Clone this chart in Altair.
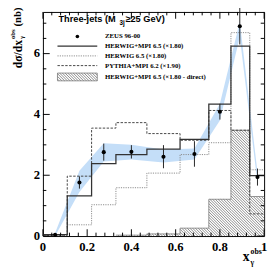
import altair as alt
import pandas as pd

# ---------------- data ----------------
edges = [0.0, 0.11, 0.22, 0.33, 0.47, 0.62, 0.75, 0.85, 0.935, 1.0]
herwig_mpi = [0.05, 1.32, 2.38, 2.68, 2.86, 3.18, 4.34, 6.25, 1.99]
herwig = [0.02, 0.37, 1.03, 1.59, 2.07, 2.68, 3.07, 6.69, 2.18]
pythia = [0.03, 1.97, 3.55, 3.73, 3.37, 3.15, 4.13, 3.48, 0.73]
direct = [0.0, 0.0, 0.0, 0.03, 0.07, 0.26, 1.21, 3.48, 1.30]

data_x = [0.055, 0.165, 0.275, 0.40, 0.545, 0.685, 0.80, 0.89, 0.97]
data_y = [0.04, 1.76, 2.76, 2.77, 2.61, 2.70, 4.09, 6.90, 1.94]
data_err = [0.03, 0.20, 0.28, 0.22, 0.38, 0.42, 0.26, 0.60, 0.28]
band_lo = [0.00, 1.45, 2.45, 2.52, 2.42, 2.52, 3.80, 6.55, 1.75]
band_hi = [0.10, 2.15, 3.05, 3.00, 2.85, 2.88, 4.35, 7.05, 2.10]

x_major = [0.0, 0.2, 0.4, 0.6, 0.8, 1.0]
x_labels = ["0", "0.2", "0.4", "0.6", "0.8", "1"]
x_minor = [0.04, 0.08, 0.12, 0.16, 0.24, 0.28, 0.32, 0.36, 0.44, 0.48, 0.52,
           0.56, 0.64, 0.68, 0.72, 0.76, 0.84, 0.88, 0.92, 0.96]
y_major = [0, 2, 4, 6]
y_labels = ["0", "2", "4", "6"]
y_minor = [0.5, 1, 1.5, 2.5, 3, 3.5, 4.5, 5, 5.5, 6.5, 7]

legend_labels = ["ZEUS 96-00", "HERWIG+MPI 6.5 (\u00d71.80)", "HERWIG 6.5 (\u00d71.80)",
                 "PYTHIA+MPI 6.2 (\u00d71.90)", "HERWIG+MPI 6.5 (\u00d71.80 - direct)"]

W, H = 228, 231
YMAX = 7.37
SERIF = "Liberation Serif"
HATCH_STEP = 2.8      # pixels between hatch lines
HATCH_COLOR = "#3c3c3c"

xs = alt.Scale(domain=[0, 1], nice=False, zero=False)
ys = alt.Scale(domain=[0, YMAX], nice=False, zero=False)
PX = W / 1.0           # pixels per x unit
PY = H / YMAX          # pixels per y unit


def steps(vals, start=0):
    rows = [{"x": edges[i], "y": vals[i]} for i in range(start, len(vals))]
    rows.append({"x": edges[-1], "y": vals[-1]})
    return pd.DataFrame(rows)


def hatch_segments(u0, u1, v0, v1, step):
    """diagonal '\\' segments (u right, v up) inside a pixel rectangle."""
    segs = []
    c = (int((u0 + v0) / step)) * step
    while c < u1 + v1:
        a = max(u0, c - v1)
        b = min(u1, c - v0)
        if b > a:
            segs.append((a, c - a, b, c - b))
        c += step
    return segs


# hatch lines for the "direct" histogram, derived from its bins
hrows = []
for i, h in enumerate(direct):
    if h <= 0:
        continue
    for (ua, va, ub, vb) in hatch_segments(edges[i] * PX, edges[i + 1] * PX, 0, h * PY, HATCH_STEP):
        hrows.append({"x": ua / PX, "y": va / PY, "x2": ub / PX, "y2": vb / PY})
hatch_df = pd.DataFrame(hrows)

X = lambda: alt.X("x:Q", scale=xs, axis=None)
Y = lambda: alt.Y("y:Q", scale=ys, axis=None)

band_df = pd.DataFrame({"x": data_x, "lo": band_lo, "hi": band_hi})
band = alt.Chart(band_df).mark_area(color="#c4def8", opacity=1).encode(
    x=alt.X("x:Q", scale=xs, axis=None),
    y=alt.Y("lo:Q", scale=ys, axis=None), y2="hi:Q")

hatch_fill = alt.Chart(steps(direct, start=3)).mark_area(
    interpolate="step-after", color="white", opacity=1).encode(x=X(), y=Y())
hatch_lines = alt.Chart(hatch_df).mark_rule(color=HATCH_COLOR, strokeWidth=0.6).encode(
    x=X(), y=Y(), x2="x2:Q", y2="y2:Q")
hatch_line = alt.Chart(steps(direct, start=3)).mark_line(
    interpolate="step-after", color="#777777", strokeWidth=0.8).encode(x=X(), y=Y())

l_herwig = alt.Chart(steps(herwig)).mark_line(
    interpolate="step-after", color="#8a8a8a", strokeWidth=1, strokeDash=[1.2, 1.2]).encode(x=X(), y=Y())
l_pythia = alt.Chart(steps(pythia)).mark_line(
    interpolate="step-after", color="#444444", strokeWidth=1, strokeDash=[2.5, 1.5]).encode(x=X(), y=Y())
l_mpi = alt.Chart(steps(herwig_mpi)).mark_line(
    interpolate="step-after", color="#333333", strokeWidth=1.3).encode(x=X(), y=Y())

pts_df = pd.DataFrame({"x": data_x, "y": data_y,
                       "lo": [a - b for a, b in zip(data_y, data_err)],
                       "hi": [a + b for a, b in zip(data_y, data_err)]})
err = alt.Chart(pts_df).mark_rule(color="#222222", strokeWidth=1).encode(
    x=X(), y=alt.Y("lo:Q", scale=ys, axis=None), y2="hi:Q")
pts = alt.Chart(pts_df).mark_circle(color="black", size=18, opacity=1).encode(x=X(), y=Y())

# ticks (inward, all four sides)
xmaj = pd.DataFrame({"x": x_major})
xmin = pd.DataFrame({"x": x_minor})
ymaj = pd.DataFrame({"y": y_major})
ymin = pd.DataFrame({"y": y_minor})
tk = dict(color="black", strokeWidth=1)
ticks = alt.layer(
    alt.Chart(xmaj).mark_rule(**tk).encode(x=X(), y=alt.value(H), y2=alt.value(H - 7)),
    alt.Chart(xmin).mark_rule(**tk).encode(x=X(), y=alt.value(H), y2=alt.value(H - 3.5)),
    alt.Chart(xmaj).mark_rule(**tk).encode(x=X(), y=alt.value(0), y2=alt.value(7)),
    alt.Chart(xmin).mark_rule(**tk).encode(x=X(), y=alt.value(0), y2=alt.value(3.5)),
    alt.Chart(ymaj).mark_rule(**tk).encode(y=Y(), x=alt.value(0), x2=alt.value(7)),
    alt.Chart(ymin).mark_rule(**tk).encode(y=Y(), x=alt.value(0), x2=alt.value(3.5)),
    alt.Chart(ymaj).mark_rule(**tk).encode(y=Y(), x=alt.value(W), x2=alt.value(W - 7)),
    alt.Chart(ymin).mark_rule(**tk).encode(y=Y(), x=alt.value(W), x2=alt.value(W - 3.5)),
)

xl_df = pd.DataFrame({"x": x_major, "t": x_labels})
yl_df = pd.DataFrame({"y": y_major, "t": y_labels})
lab = dict(font=SERIF, fontWeight="bold", fontSize=13, color="black")
xlab = alt.Chart(xl_df).mark_text(baseline="middle", align="center", **lab).encode(
    x=X(), y=alt.value(H + 11), text="t:N")
ylab = alt.Chart(yl_df).mark_text(baseline="middle", align="right", dx=-3, **lab).encode(
    y=Y(), x=alt.value(0), text="t:N")

one = pd.DataFrame({"a": [0]})


def txt(s, x, y, size, font=SERIF, align="left", angle=0, baseline="middle"):
    kw = dict(font=font, fontWeight="bold", fontSize=size, color="black",
              align=align, baseline=baseline, text=s)
    if angle:
        kw["angle"] = angle
    return alt.Chart(one).mark_text(**kw).encode(x=alt.value(x), y=alt.value(y))


# axis titles
titles = alt.layer(
    txt("x", 206, 253, 14),
    txt("obs", 214, 247, 8),
    txt("\u03b3", 214, 259, 8),
    txt("d\u03c3/dx", -26, 58, 12, angle=270),
    txt("obs", -31, 28, 7, angle=270),
    txt("\u03b3", -21, 28, 7, angle=270),
    txt("(nb)", -26, 15, 11, angle=270),
)

# legend
rows_y = [25.3, 35.3, 45.3, 55.3, 67]
leg_text = alt.layer(*[txt(s, 64, yy, 7) for s, yy in zip(legend_labels, rows_y)])
head = alt.layer(
    txt("Three-jets (M", 16, 7, 9.5, font="Liberation Sans"),
    txt("3j", 79, 11, 6.5, font="Liberation Sans"),
    txt("\u226525 GeV)", 85, 7, 9.5, font="Liberation Sans"),
)
leg_dot = alt.Chart(one).mark_circle(color="black", size=14, opacity=1).encode(
    x=alt.value(35.5), y=alt.value(rows_y[0]))
leg_mpi = alt.Chart(one).mark_rule(color="#333333", strokeWidth=1.3).encode(
    x=alt.value(15), x2=alt.value(56), y=alt.value(rows_y[1]))
leg_herwig = alt.Chart(one).mark_rule(color="#8a8a8a", strokeWidth=1, strokeDash=[1.2, 1.2]).encode(
    x=alt.value(15), x2=alt.value(56), y=alt.value(rows_y[2]))
leg_pythia = alt.Chart(one).mark_rule(color="#444444", strokeWidth=1, strokeDash=[2.5, 1.5]).encode(
    x=alt.value(15), x2=alt.value(56), y=alt.value(rows_y[3]))

# legend hatched box (pixel space, v measured upward from box bottom)
BX0, BX1, BY0, BY1 = 15, 56, 63, 71
lrows = [{"px": ua, "py": BY1 - va, "px2": ub, "py2": BY1 - vb}
         for (ua, va, ub, vb) in hatch_segments(BX0, BX1, 0, BY1 - BY0, HATCH_STEP)]
leg_hatch = alt.Chart(pd.DataFrame(lrows)).mark_rule(color=HATCH_COLOR, strokeWidth=0.6).encode(
    x=alt.X("px:Q", scale=None), y=alt.Y("py:Q", scale=None),
    x2="px2:Q", y2="py2:Q")
leg_box = alt.Chart(one).mark_rect(fill=None, stroke="#777777", strokeWidth=0.8).encode(
    x=alt.value(BX0), x2=alt.value(BX1), y=alt.value(BY0), y2=alt.value(BY1))

chart = alt.layer(
    band, hatch_fill, hatch_lines, hatch_line, l_herwig, l_pythia, l_mpi, err, pts,
    ticks, xlab, ylab, titles, leg_text, head, leg_dot, leg_mpi, leg_herwig, leg_pythia,
    leg_hatch, leg_box,
).properties(
    width=W, height=H,
    autosize=alt.AutoSizeParams(type="none"),
    padding={"left": 36, "top": 0, "right": 4, "bottom": 34},
).configure_view(stroke="black", strokeWidth=1)

chart.save("out.html", embed_options={"renderer": "svg", "actions": False})
